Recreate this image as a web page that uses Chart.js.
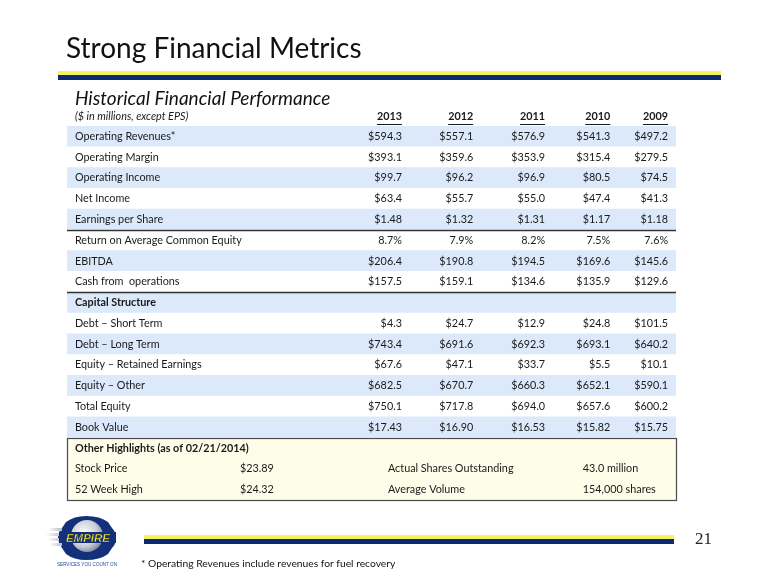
<!DOCTYPE html>
<html>
<head>
<meta charset="utf-8">
<script src="https://cdn.jsdelivr.net/npm/chart.js@4.4.0/dist/chart.umd.min.js"></script>
<style>
  body { margin: 0; background: #fff; }
  #page { position: relative; width: 780px; height: 585px; overflow: hidden; font-family: Lato, "Open Sans", sans-serif; color: #111; }
  #tableChart { position: absolute; left: 0; top: 0; }
  .abs { position: absolute; white-space: nowrap; }
  #title { left: 66px; top: 30px; font-size: 28px; line-height: 34px; color: #111; }
  #subtitle { left: 75px; top: 86px; font-size: 19px; font-style: italic; line-height: 24px; }
  .stripe-y { background: #f6f25e; }
  .stripe-n { background: #0b2a72; }
  #footnote { left: 141px; top: 556px; font-size: 10.3px; line-height: 14px; }
  #pageNum { left: 695px; top: 529px; font-family: "Liberation Serif", serif; font-size: 17px; line-height: 20px; color: #222; }
</style>
</head>
<body>
<div id="page">
  <canvas id="tableChart" width="780" height="585"></canvas>
  <div class="abs" id="title">Strong Financial Metrics</div>
  <div class="abs stripe-y" style="left:58px;top:71px;width:663px;height:4px"></div>
  <div class="abs stripe-n" style="left:58px;top:75px;width:663px;height:5px"></div>
  <div class="abs" id="subtitle">Historical Financial Performance</div>
  <div class="abs stripe-y" style="left:144px;top:535px;width:530px;height:4px"></div>
  <div class="abs stripe-n" style="left:144px;top:539px;width:530px;height:5px"></div>
  <div class="abs" id="pageNum">21</div>
  <div class="abs" id="footnote">* Operating Revenues include revenues for fuel recovery</div>
  <svg class="abs" style="left:44px;top:512px" width="84" height="60" viewBox="0 0 84 60">
    <defs>
      <radialGradient id="globe" cx="0.4" cy="0.4" r="0.7">
        <stop offset="0" stop-color="#ffffff"/>
        <stop offset="0.6" stop-color="#c9cdd8"/>
        <stop offset="1" stop-color="#6c7590"/>
      </radialGradient>
      <linearGradient id="speed" x1="0" x2="1">
        <stop offset="0" stop-color="#ffffff"/>
        <stop offset="1" stop-color="#b8bccb"/>
      </linearGradient>
    </defs>
    <path d="M22 10 Q30 4 42 4 Q56 4 64 10 L68 16 Q72 20 72 26 Q72 32 68 36 L64 42 Q56 48 42 48 Q30 48 22 42 L18 36 Q14 30 14 26 Q14 20 18 16 Z" fill="#14307a"/>
    <circle cx="43" cy="24" r="16" fill="url(#globe)"/>
    <rect x="4" y="16" width="14" height="3" fill="url(#speed)"/>
    <rect x="2" y="21" width="16" height="3" fill="url(#speed)"/>
    <rect x="4" y="26" width="14" height="3" fill="url(#speed)"/>
    <rect x="6" y="31" width="12" height="3" fill="url(#speed)"/>
    <rect x="15" y="20" width="57" height="11" fill="#14307a"/>
    <text x="44" y="30" text-anchor="middle" font-family="Liberation Sans" font-weight="bold" font-style="italic" font-size="11.5" fill="#f3e93a" stroke="#0b1f55" stroke-width="0.4">EMPIRE</text>
    <text x="43" y="54" text-anchor="middle" font-family="Liberation Sans" font-size="4.6" fill="#2a4a9a">SERVICES YOU COUNT ON</text>
  </svg>
</div>
<script>
// years (column headers)
const years = ["2013", "2012", "2011", "2010", "2009"];

// row labels of the table, then the three rows of the highlights box
const rowLabels = [
  "Operating Revenues*", "Operating Margin", "Operating Income", "Net Income",
  "Earnings per Share", "Return on Average Common Equity", "EBITDA", "Cash from  operations",
  "Capital Structure", "Debt \u2013 Short Term", "Debt \u2013 Long Term",
  "Equity \u2013 Retained Earnings", "Equity \u2013 Other", "Total Equity", "Book Value",
  "Other Highlights (as of 02/21/2014)", "Stock Price", "52 Week High"
];

// values per row, 2013 -> 2009
const operatingRevenues = [594.3, 557.1, 576.9, 541.3, 497.2];
const operatingMargin = [393.1, 359.6, 353.9, 315.4, 279.5];
const operatingIncome = [99.7, 96.2, 96.9, 80.5, 74.5];
const netIncome = [63.4, 55.7, 55.0, 47.4, 41.3];
const earningsPerShare = [1.48, 1.32, 1.31, 1.17, 1.18];
const returnOnEquity = [8.7, 7.9, 8.2, 7.5, 7.6];
const ebitda = [206.4, 190.8, 194.5, 169.6, 145.6];
const cashFromOperations = [157.5, 159.1, 134.6, 135.9, 129.6];
const debtShortTerm = [4.3, 24.7, 12.9, 24.8, 101.5];
const debtLongTerm = [743.4, 691.6, 692.3, 693.1, 640.2];
const equityRetained = [67.6, 47.1, 33.7, 5.5, 10.1];
const equityOther = [682.5, 670.7, 660.3, 652.1, 590.1];
const totalEquity = [750.1, 717.8, 694.0, 657.6, 600.2];
const bookValue = [17.43, 16.90, 16.53, 15.82, 15.75];

// other highlights
const stockPrice = 23.89;
const weekHigh52 = 24.32;
const sharesOutstanding = "43.0 million";
const averageVolume = "154,000 shares";

const money1 = v => "$" + v.toFixed(1);
const money2 = v => "$" + v.toFixed(2);
const pct = v => v.toFixed(1) + "%";

// cell text per row (null = header row without values)
const cells = [
  operatingRevenues.map(money1), operatingMargin.map(money1), operatingIncome.map(money1),
  netIncome.map(money1), earningsPerShare.map(money2), returnOnEquity.map(pct),
  ebitda.map(money1), cashFromOperations.map(money1), null,
  debtShortTerm.map(money1), debtLongTerm.map(money1), equityRetained.map(money1),
  equityOther.map(money1), totalEquity.map(money1), bookValue.map(money2)
];

// layout in x-scale units (0..100 across the table)
const labelX = 1.3;
const colRight = [55.0, 66.7, 78.5, 89.2, 98.7];
const hlValueX = 28.4, hlLabel2X = 52.7, hlValue2X = 84.7;
const FONT = "Lato, 'Open Sans', sans-serif";
const SIZE = "10.8px ";

const rowColors = rowLabels.map((_, i) => i >= 15 ? "#fefde9" : (i % 2 === 0 ? "#dbe9fa" : "#ffffff"));

const tablePlugin = {
  id: "tableText",
  afterDatasetsDraw(chart) {
    const ctx = chart.ctx;
    const x = chart.scales.x, y = chart.scales.y;
    const area = chart.chartArea;
    const half = (y.getPixelForValue(1) - y.getPixelForValue(0)) / 2;
    ctx.save();
    ctx.fillStyle = "#1a1a1a";
    ctx.textBaseline = "middle";

    // header line
    const hy = 117;
    ctx.font = "italic " + SIZE + FONT;
    ctx.textAlign = "left";
    ctx.fillText("($ in millions, except EPS)", x.getPixelForValue(labelX), hy);
    ctx.font = "bold " + SIZE + FONT;
    ctx.textAlign = "right";
    ctx.strokeStyle = "#1a1a1a";
    ctx.lineWidth = 1;
    years.forEach((yr, j) => {
      const px = x.getPixelForValue(colRight[j]);
      ctx.fillText(yr, px, hy);
      const w = ctx.measureText(yr).width;
      ctx.beginPath();
      ctx.moveTo(px - w, hy + 7.5);
      ctx.lineTo(px, hy + 7.5);
      ctx.stroke();
    });

    // table rows
    rowLabels.forEach((label, i) => {
      const py = y.getPixelForValue(i);
      const bold = i === 8 || i === 15;
      ctx.font = (bold ? "bold " : "") + SIZE + FONT;
      ctx.textAlign = "left";
      ctx.fillText(label, x.getPixelForValue(labelX), py);
      if (i < cells.length && cells[i]) {
        ctx.font = SIZE + FONT;
        ctx.textAlign = "right";
        cells[i].forEach((t, j) => ctx.fillText(t, x.getPixelForValue(colRight[j]), py));
      }
    });

    // highlights box contents
    ctx.font = SIZE + FONT;
    ctx.textAlign = "left";
    const r1 = y.getPixelForValue(16), r2 = y.getPixelForValue(17);
    ctx.fillText(money2(stockPrice), x.getPixelForValue(hlValueX), r1);
    ctx.fillText("Actual Shares Outstanding", x.getPixelForValue(hlLabel2X), r1);
    ctx.fillText(sharesOutstanding, x.getPixelForValue(hlValue2X), r1);
    ctx.fillText(money2(weekHigh52), x.getPixelForValue(hlValueX), r2);
    ctx.fillText("Average Volume", x.getPixelForValue(hlLabel2X), r2);
    ctx.fillText(averageVolume, x.getPixelForValue(hlValue2X), r2);

    // separator rules under EPS and cash rows
    ctx.strokeStyle = "#333";
    ctx.lineWidth = 1.3;
    [4, 7].forEach(i => {
      const ly = Math.round(y.getPixelForValue(i) + half) + 0.5;
      ctx.beginPath();
      ctx.moveTo(area.left, ly);
      ctx.lineTo(area.right, ly);
      ctx.stroke();
    });

    // box around highlights
    const top = y.getPixelForValue(15) - half, bottom = y.getPixelForValue(17) + half;
    ctx.strokeStyle = "#4a4a4a";
    ctx.lineWidth = 1.2;
    ctx.strokeRect(area.left + 0.5, Math.round(top) + 0.5, area.right - area.left, Math.round(bottom - top));
    ctx.restore();
  }
};

new Chart(document.getElementById("tableChart"), {
  type: "bar",
  data: {
    labels: rowLabels,
    datasets: [{
      data: rowLabels.map(() => [0, 100]),
      backgroundColor: rowColors,
      borderWidth: 0,
      barPercentage: 1,
      categoryPercentage: 1
    }]
  },
  options: {
    indexAxis: "y",
    responsive: false,
    animation: false,
    devicePixelRatio: 1,
    layout: { padding: { left: 67, right: 104, top: 126, bottom: 85 } },
    scales: {
      x: { type: "linear", min: 0, max: 100, display: false },
      y: { type: "category", display: false }
    },
    plugins: { legend: { display: false }, tooltip: { enabled: false } }
  },
  plugins: [tablePlugin]
});
</script>
</body>
</html>
